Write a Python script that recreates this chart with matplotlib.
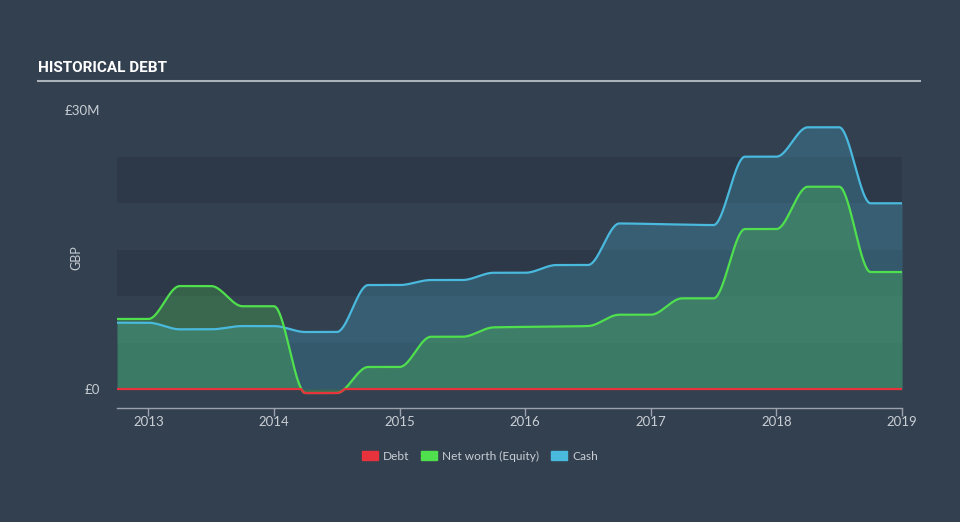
import numpy as np
import matplotlib.pyplot as plt
from matplotlib.patches import Patch

# quarterly points (decimal years), values in £M
dates = [2012.75, 2013.0, 2013.25, 2013.5, 2013.75, 2014.0, 2014.25, 2014.5,
         2014.75, 2015.0, 2015.25, 2015.5, 2015.75, 2016.0, 2016.25, 2016.5,
         2016.75, 2017.0, 2017.25, 2017.5, 2017.75, 2018.0, 2018.25, 2018.5,
         2018.75, 2019.0]
debt = [0] * 26
equity = [7.53, 7.53, 11.07, 11.07, 8.9, 8.9, -0.43, -0.43,
          2.37, 2.37, 5.62, 5.62, 6.63, 6.68, 6.72, 6.77,
          7.99, 7.99, 9.75, 9.75, 17.2, 17.2, 21.75, 21.75,
          12.58, 12.58]
cash = [7.13, 7.13, 6.42, 6.42, 6.77, 6.77, 6.13, 6.13,
        11.18, 11.18, 11.72, 11.72, 12.5, 12.5, 13.33, 13.33,
        17.8, 17.75, 17.68, 17.63, 24.98, 24.98, 28.14, 28.14,
        19.97, 19.97]
years = [2013, 2014, 2015, 2016, 2017, 2018, 2019]


def monotone(x, y, n=40):
    # Fritsch-Carlson monotone cubic, like d3 curveMonotoneX
    x = np.asarray(x, float)
    y = np.asarray(y, float)
    h = np.diff(x)
    d = np.diff(y) / h
    m = np.zeros_like(y)
    m[0], m[-1] = d[0], d[-1]
    for i in range(1, len(y) - 1):
        if d[i - 1] * d[i] <= 0:
            m[i] = 0
        else:
            w1 = 2 * h[i] + h[i - 1]
            w2 = h[i] + 2 * h[i - 1]
            m[i] = (w1 + w2) / (w1 / d[i - 1] + w2 / d[i])
    xs, ys = [], []
    for i in range(len(x) - 1):
        t = np.linspace(0, 1, n, endpoint=False)
        h00 = 2 * t**3 - 3 * t**2 + 1
        h10 = t**3 - 2 * t**2 + t
        h01 = -2 * t**3 + 3 * t**2
        h11 = t**3 - t**2
        xs.append(x[i] + t * h[i])
        ys.append(h00 * y[i] + h10 * h[i] * m[i] + h01 * y[i + 1] + h11 * h[i] * m[i + 1])
    xs.append([x[-1]])
    ys.append([y[-1]])
    return np.concatenate(xs), np.concatenate(ys)


bg = '#334050'
band = '#2d3948'
txt = '#c9ced4'
c_debt = '#e8323c'
c_eq = '#50e04e'
c_cash = '#4ab9de'

fig = plt.figure(figsize=(9.6, 5.22), dpi=100, facecolor=bg)
ax = fig.add_axes([117 / 960, 1 - 408 / 522, 785 / 960, 298 / 522])
ax.set_facecolor(bg)

for lo in (0, 10, 20):
    ax.axhspan(lo, lo + 5, color=band, lw=0, zorder=0)

xc, yc = monotone(dates, cash)
xe, ye = monotone(dates, equity)
xd, yd = monotone(dates, debt)

ax.fill_between(xc, 0, yc, color=c_cash, alpha=0.25, lw=0, zorder=1)
ax.fill_between(xe, 0, ye, color=c_eq, alpha=0.25, lw=0, zorder=2)
ax.plot(xc, yc, color=c_cash, lw=1.6, zorder=3)
ax.plot(xe, ye, color=c_eq, lw=1.6, zorder=4)
# debt line sits on zero; where equity drops below zero it is drawn in red too
ax.plot(xd, np.minimum(yd, ye), color=c_debt, lw=1.6, zorder=5)

ax.set_xlim(dates[0], dates[-1])
ax.set_ylim(-2.04, 30)

for s in ('top', 'right', 'left'):
    ax.spines[s].set_visible(False)
ax.spines['bottom'].set_color('#9aa3ad')
ax.spines['bottom'].set_linewidth(1)

ax.set_xticks(years)
ax.set_xticklabels([str(y) for y in years], color=txt, fontsize=9.5, family='Lato')
ax.tick_params(axis='x', colors='#9aa3ad', length=6, width=1, labelcolor=txt, pad=0)
ax.set_yticks([0, 30])
ax.set_yticklabels(['£0', '£30M'], color=txt, fontsize=9.5, family='Lato')
ax.tick_params(axis='y', length=0, pad=12)
ax.set_ylabel('GBP', color=txt, fontsize=9, family='Lato')
ax.yaxis.set_label_coords(-35 / 785, (408 - 258) / 298)

fig.text(38 / 960, 1 - 68 / 522, 'HISTORICAL DEBT', color='white', fontsize=11,
         fontweight='bold', family='Roboto', va='center')
fig.add_artist(plt.Line2D([38 / 960, 920 / 960], [1 - 81 / 522, 1 - 81 / 522],
                          color='#aab2bb', lw=1.5))

handles = [Patch(color=c_debt, label='Debt'),
           Patch(color=c_eq, label='Net worth (Equity)'),
           Patch(color=c_cash, label='Cash')]
leg = fig.legend(handles=handles, loc='center', bbox_to_anchor=(0.5, 1 - 456 / 522),
                 ncol=3, frameon=False, handlelength=1.3, handleheight=0.85,
                 handletextpad=0.45, columnspacing=1.0, prop={'family': 'Lato', 'size': 8.6})
for t in leg.get_texts():
    t.set_color(txt)

fig.savefig('out.png', dpi=100, facecolor=bg)
